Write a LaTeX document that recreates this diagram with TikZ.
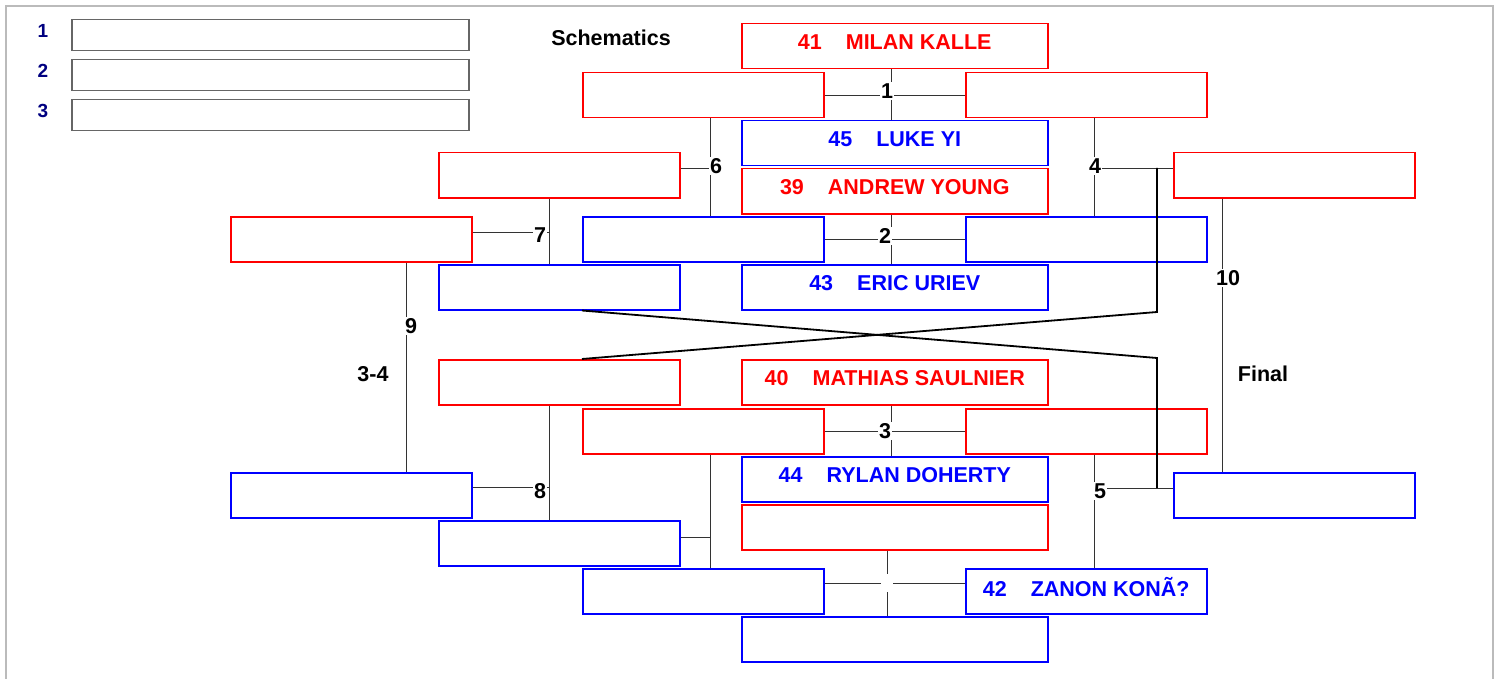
\documentclass[tikz,border=0pt]{standalone}
\usepackage{fontspec}
\setmainfont{Liberation Sans}
\usetikzlibrary{positioning,calc}
\definecolor{navy}{HTML}{000080}
\definecolor{framegray}{HTML}{BBBBBB}
\tikzset{slot/.style={draw, line width=1.5pt, minimum width=241pt, minimum height=45pt, inner sep=0pt, text depth=9pt, anchor=north west, font=\bfseries\fontsize{21.5}{24}\selectfont}}
\tikzset{redbox/.style={slot, draw=red, text=red}}
\tikzset{bluebox/.style={slot, draw=blue, text=blue}}
\tikzset{cwide/.style={minimum width=306pt}}
\tikzset{legbox/.style={draw=black!60, line width=1.5pt, minimum width=397pt, minimum height=31pt, inner sep=0pt, anchor=north west}}
\tikzset{numtag/.style={fill=white, inner sep=1.5pt, font=\bfseries\fontsize{21.5}{24}\selectfont}}
\tikzset{conn/.style={draw=black!80, line width=0.9pt}}
\tikzset{cross/.style={draw=black, line width=1.8pt}}
\newcommand{\who}[2]{#1\hspace{24pt}#2}

\begin{document}
\begin{tikzpicture}[x=1pt, y=-1pt]
	\useasboundingbox (0,0) rectangle (1495,679);
	\draw[framegray, line width=2pt] (6,690) -- (6,6) -- (1493,6) -- (1493,690);
	
	% legend
	\foreach \i/\y in {1/19, 2/59, 3/99} {
		\node[legbox] (L\i) at (71,\y) {};
		\node[text=navy, font=\bfseries\fontsize{19}{22}\selectfont] (n\i) at (43,\y+12) {\i};
	}
	\node[font=\bfseries\fontsize{21.5}{24}\selectfont] (title) at (611,38) {Schematics};
	
	% centre column
	\node[redbox, cwide] (kalle) at (741,23) {\who{41}{MILAN KALLE}};
	\node[bluebox, cwide] (yi) at (741,120) {\who{45}{LUKE YI}};
	\node[redbox, cwide] (young) at (741,168) {\who{39}{ANDREW YOUNG}};
	\node[bluebox, cwide] (uriev) at (741,264) {\who{43}{ERIC URIEV}};
	\node[redbox, cwide] (saulnier) at (741,359) {\who{40}{MATHIAS SAULNIER}};
	\node[bluebox, cwide] (doherty) at (741,456) {\who{44}{RYLAN DOHERTY}};
	\node[redbox, cwide] (cred) at (741,504) {};
	\node[bluebox, cwide] (cblue) at (741,616) {};
	
	% first round
	\node[redbox] (a1) at (582,72) {};
	\node[redbox] (b1) at (965,72) {};
	\node[bluebox] (a2) at (582,216) {};
	\node[bluebox] (b2) at (965,216) {};
	\node[redbox] (a3) at (582,408) {};
	\node[redbox] (b3) at (965,408) {};
	\node[bluebox] (a4) at (582,568) {};
	\node[bluebox] (b4) at (965,568) {\who{42}{ZANON KONÃ?}};
	
	% left side
	\node[redbox] (p1) at (438,152) {};
	\node[bluebox] (p2) at (438,264) {};
	\node[redbox] (p3) at (438,359) {};
	\node[bluebox] (p4) at (438,520) {};
	\node[redbox] (q1) at (230,216) {};
	\node[bluebox] (q2) at (230,472) {};
	
	% right side
	\node[redbox] (f1) at (1173,152) {};
	\node[bluebox] (f2) at (1173,472) {};
	
	\coordinate (j4) at (887,583);
	\coordinate (j6) at (710,168);
	\coordinate (jr4) at (1094,168);
	\coordinate (j7) at (549,232);
	\coordinate (j8) at (549,487);
	\coordinate (j5) at (1094,488);
	\coordinate (jx) at (710,537);
	\coordinate (j9) at (406,326);
	\coordinate (j10) at (1222,278);
	\coordinate (bendA) at (1157,312);
	\coordinate (bendB) at (1157,358);
	
	% matches
	\draw[conn] (a1.east) -- (b1.west) ([xshift=-3pt]kalle.south) -- ([xshift=-3pt]yi.north);
	\draw[conn] (a2.east) -- (b2.west) ([xshift=-3pt]young.south) -- ([xshift=-3pt]uriev.north);
	\draw[conn] (a3.east) -- (b3.west) ([xshift=-3pt]saulnier.south) -- ([xshift=-3pt]doherty.north);
	\draw[conn] (a4.east |- j4) -- (b4.west |- j4) (cred.south -| j4) -- (cblue.north -| j4);
	\draw[conn] (a1.south -| j6) -- (a2.north -| j6) (p1.east |- j6) -- (j6);
	\draw[conn] (b1.south -| jr4) -- (b2.north -| jr4) (jr4) -- (f1.west |- jr4);
	\draw[conn] (p1.south -| j7) -- (p2.north -| j7) (q1.east |- j7) -- (j7);
	\draw[conn] (p3.south -| j8) -- (p4.north -| j8) (q2.east |- j8) -- (j8);
	\draw[conn] (b3.south -| j5) -- (b4.north -| j5) (j5) -- (f2.west |- j5);
	\draw[conn] (a3.south -| jx) -- (a4.north -| jx) (p4.east |- jx) -- (jx);
	\draw[conn] (q1.south -| j9) -- (q2.north -| j9);
	\draw[conn] (f1.south -| j10) -- (f2.north -| j10);
	
	\draw[cross] (p2.south -| a2.west) -- (bendB) -- (bendB |- j5);
	\draw[cross] (bendA |- jr4) -- (bendA) -- (p3.north -| a3.west);
	
	\node[numtag] (t1) at (887,91) {1};
	\node[numtag] (t2) at (885,236) {2};
	\node[numtag] (t3) at (885,431) {3};
	\node[numtag, minimum width=12pt, minimum height=18pt, inner sep=0pt] (t0) at (j4) {};
	\node[numtag] (t6) at (716,166) {6};
	\node[numtag] (t4) at (1095,166) {4};
	\node[numtag] (t7) at (540,235) {7};
	\node[numtag] (t8) at (540,491) {8};
	\node[numtag] (t5) at (1100,491) {5};
	\node[numtag] (t9) at (411,326) {9};
	\node[numtag] (t10) at (1228,278) {10};
	\node[numtag] (tb) at (373,374) {3-4};
	\node[numtag] (tf) at (1263,374) {Final};
\end{tikzpicture}
\end{document}
